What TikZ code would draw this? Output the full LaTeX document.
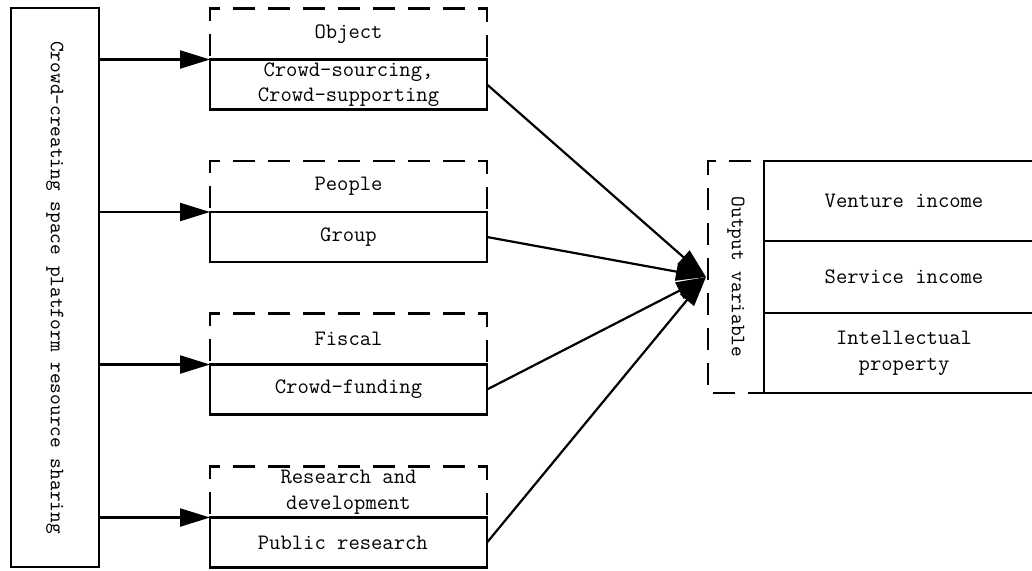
\documentclass[tikz,border=0pt]{standalone}
\usepackage{tikz}
\usetikzlibrary{arrows.meta, positioning}

\begin{document}
\begin{tikzpicture}[x=0.5pt, y=-0.5pt, line width=1.1pt,
    >={Triangle[length=15pt, width=9pt]},
    every node/.style={font=\ttfamily\fontsize{11}{12.8}\selectfont, align=center, inner sep=0pt, outer sep=0pt},
    sidetext/.style={font=\ttfamily\fontsize{10.2}{12}\selectfont, rotate=-90},
    topbox/.style={draw, dash pattern=on 11pt off 6.5pt, minimum width=138.5pt, minimum height=25.5pt},
    lowbox/.style={draw, minimum width=138.5pt, minimum height=25pt},
    outbox/.style={draw, minimum width=140pt, anchor=north west}]
    \useasboundingbox (0,0) rectangle (1032,570);
    % left column (rotated, so its north side faces right)
    \node[draw, sidetext, minimum width=279.5pt, minimum height=44pt] (platform) at (55,287.5)
      {Crowd-creating space platform resource sharing};
    \coordinate (conv) at (706,277);
    % resource groups
    \foreach \Name/\Y/\Upper/\Lower in {
      object/34/Object/{Crowd-sourcing,\\Crowd-supporting},
      people/186.5/People/Group,
      fiscal/339/Fiscal/Crowd-funding,
      research/492/{Research and\\development}/{Public research}
    }
    {
      \node[topbox] (\Name-top) at (348.5,\Y) {\Upper};
      \node[lowbox, below=0pt of \Name-top] (\Name) {\Lower};
      \draw[->] (platform.north |- \Name-top.south) -- (\Name-top.south west);
      \draw[->] (\Name.east) -- (conv);
    }
    % output side
    \node[draw, dash pattern=on 11pt off 6.5pt, sidetext, minimum width=116pt, minimum height=28pt] (output) at (736,277)
      {Output variable};
    \node[outbox, minimum height=40pt] (venture) at (764,161) {Venture income};
    \node[outbox, minimum height=36pt, below=0pt of venture] (service) {Service income};
    \node[outbox, minimum height=40pt, below=0pt of service] (property) {Intellectual\\property};
\end{tikzpicture}
\end{document}
